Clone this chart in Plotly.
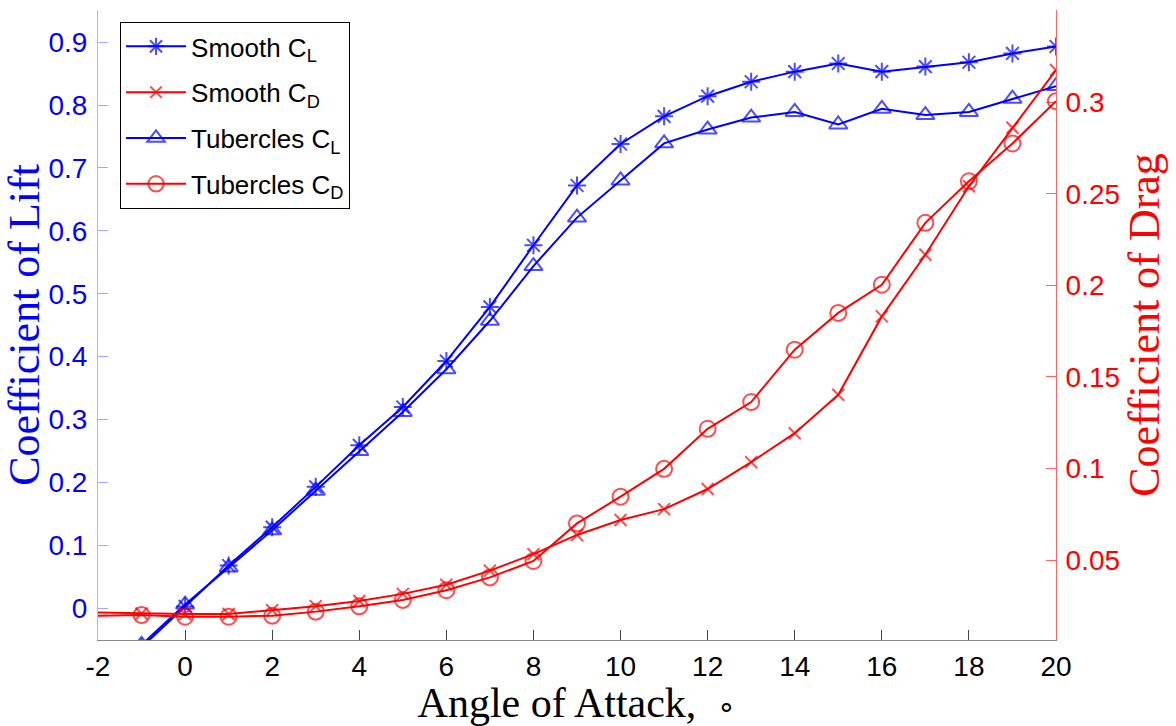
import plotly.graph_objects as go

# ---------------- data ----------------
angles = list(range(-2, 21))

smooth_cl = [-0.125, -0.062, 0.003, 0.068, 0.129, 0.193, 0.259, 0.320, 0.393, 0.479,
             0.577, 0.672, 0.738, 0.782, 0.814, 0.837, 0.853, 0.866, 0.853, 0.861,
             0.868, 0.882, 0.893]
tubercles_cl = [-0.120, -0.058, 0.006, 0.065, 0.124, 0.187, 0.250, 0.312, 0.380, 0.457,
                0.544, 0.621, 0.680, 0.739, 0.761, 0.780, 0.789, 0.769, 0.794, 0.784,
                0.789, 0.810, 0.830]
smooth_cd = [0.0213, 0.0208, 0.0205, 0.0205, 0.0226, 0.0248, 0.0276, 0.0315, 0.0365, 0.0442,
             0.0532, 0.0637, 0.0719, 0.0778, 0.0888, 0.1035, 0.1193, 0.1403, 0.1831, 0.2168,
             0.2542, 0.2862, 0.3177]
tubercles_cd = [0.0196, 0.0199, 0.0190, 0.0190, 0.0196, 0.0218, 0.0247, 0.0282, 0.0335, 0.0405,
                0.0495, 0.0700, 0.0846, 0.0998, 0.1217, 0.1363, 0.1649, 0.1850, 0.2004, 0.2342,
                0.2569, 0.2776, 0.3007]

x_ticks = list(range(-2, 21, 2))
x_tick_text = ["-2", "0", "2", "4", "6", "8", "10", "12", "14", "16", "18", "20"]
left_ticks = [0, 0.1, 0.2, 0.3, 0.4, 0.5, 0.6, 0.7, 0.8, 0.9]
left_tick_text = ["0", "0.1", "0.2", "0.3", "0.4", "0.5", "0.6", "0.7", "0.8", "0.9"]
right_ticks = [0.05, 0.1, 0.15, 0.2, 0.25, 0.3]
right_tick_text = ["0.05", "0.1", "0.15", "0.2", "0.25", "0.3"]

series_names = ["Smooth C<sub>L</sub>", "Smooth C<sub>D</sub>",
                "Tubercles C<sub>L</sub>", "Tubercles C<sub>D</sub>"]

# ---------------- styling ----------------
BLUE = "#0000ff"
RED = "#ff0000"
SANS = "Liberation Sans, Arial, sans-serif"
SERIF = "Liberation Serif, Times New Roman, serif"


def msizes(s):
    # no marker drawn on the first point (at the left axis edge)
    return [0] + [s] * (len(angles) - 1)


fig = go.Figure()

fig.add_trace(go.Scatter(
    x=angles, y=smooth_cl, name=series_names[0], legendgroup="g1",
    mode="lines+markers", yaxis="y",
    line=dict(color=BLUE, width=2),
    marker=dict(symbol="asterisk-open", size=msizes(15), color=BLUE,
                line=dict(color=BLUE, width=2))))

fig.add_trace(go.Scatter(
    x=angles, y=smooth_cd, name=series_names[1], legendgroup="g2",
    mode="lines+markers", yaxis="y2",
    line=dict(color=RED, width=2),
    marker=dict(symbol="x-thin-open", size=msizes(12), color=RED,
                line=dict(color=RED, width=2))))

fig.add_trace(go.Scatter(
    x=angles, y=tubercles_cl, name=series_names[2], legendgroup="g3",
    mode="lines+markers", yaxis="y",
    line=dict(color=BLUE, width=2),
    marker=dict(symbol="triangle-up-open", size=msizes(16), color=BLUE,
                line=dict(color=BLUE, width=2))))

fig.add_trace(go.Scatter(
    x=angles, y=tubercles_cd, name=series_names[3], legendgroup="g4",
    mode="lines+markers", yaxis="y2",
    line=dict(color=RED, width=2),
    marker=dict(symbol="circle-open", size=msizes(16), color=RED,
                line=dict(color=RED, width=2))))

fig.update_layout(
    template="none",
    width=1176, height=726,
    margin=dict(l=98, r=120, t=10, b=86, pad=0),
    paper_bgcolor="white", plot_bgcolor="white",
    showlegend=True,
    legend=dict(
        x=0.023, y=0.981, xanchor="left", yanchor="top",
        bgcolor="white", bordercolor="black", borderwidth=1,
        font=dict(family=SANS, size=26, color="black"),
        traceorder="grouped", tracegroupgap=9, itemwidth=60,
    ),
    xaxis=dict(
        range=[-2, 20], tickvals=x_ticks, ticktext=x_tick_text,
        ticks="inside", ticklen=10,
        tickcolor="#444", tickwidth=1,
        showline=True, linecolor="#888", linewidth=1,
        showgrid=False, zeroline=False, automargin=False,
        tickfont=dict(family=SANS, size=28, color="black"),
        ticklabelstandoff=1,
        title=dict(text="Angle of Attack,\u00a0\u00a0<span style=\"font-size:30px\">\u2218</span>",
                   font=dict(family=SERIF, size=42, color="black"),
                   standoff=9),
    ),
    yaxis=dict(
        range=[-0.0504, 0.951], tickvals=left_ticks, ticktext=left_tick_text,
        ticks="inside", ticklen=10, tickcolor="rgba(0,0,255,0.35)", tickwidth=1,
        showline=True, linecolor="rgba(0,0,255,0.3)", linewidth=1,
        showgrid=False, zeroline=False, automargin=False,
        tickfont=dict(family=SANS, size=28, color=BLUE),
        ticklabelstandoff=4,
        title=dict(text="Coefficient of Lift",
                   font=dict(family=SERIF, size=44, color=BLUE),
                   standoff=0),
    ),
    yaxis2=dict(
        overlaying="y", side="right", anchor="x",
        range=[0.0063, 0.3505], tickvals=right_ticks, ticktext=right_tick_text,
        ticks="inside", ticklen=10, tickcolor="rgba(255,0,0,0.6)", tickwidth=1,
        showline=True, linecolor="rgba(255,0,0,0.6)", linewidth=1,
        showgrid=False, zeroline=False, automargin=False,
        tickfont=dict(family=SANS, size=28, color=RED),
        ticklabelstandoff=3,
        title=dict(text="Coefficient of Drag",
                   font=dict(family=SERIF, size=44, color=RED),
                   standoff=2),
    ),
)

fig.write_html("out.html")
